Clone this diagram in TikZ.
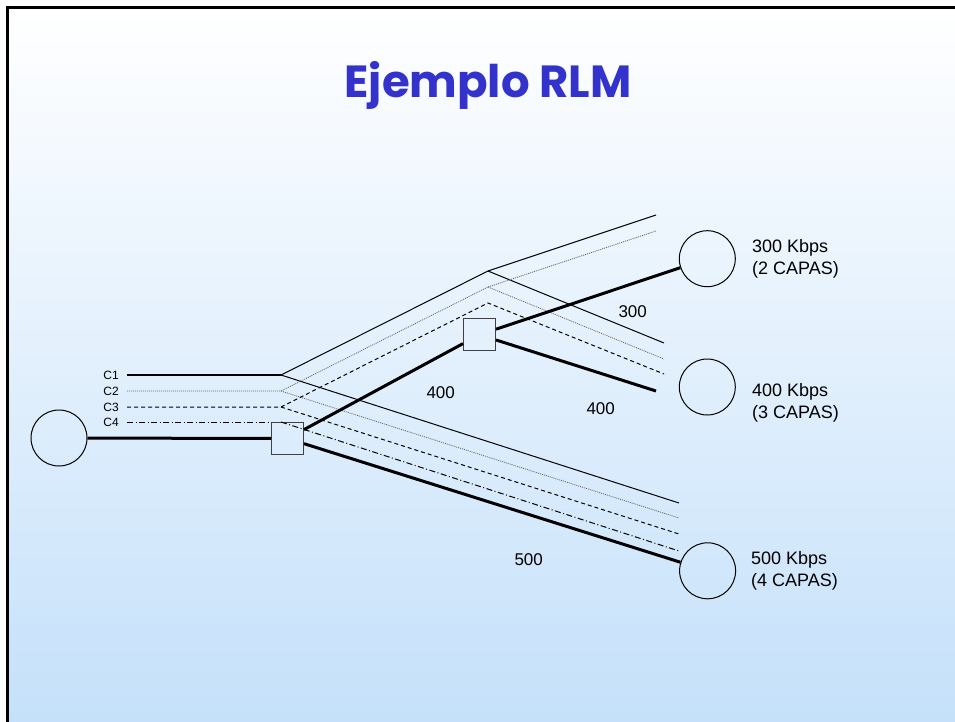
\documentclass[tikz,border=0pt]{standalone}
\usepackage{fontspec}
\setmainfont{Liberation Sans}
\newfontfamily\titlefont{Poppins}
\usetikzlibrary{calc,positioning}
\definecolor{fondo}{RGB}{196,224,250}
\definecolor{titulo}{RGB}{51,51,204}
\tikzset{
	host/.style={draw,circle,minimum size=56pt,inner sep=0pt,line width=1pt},
	router/.style={draw=black!75,rectangle,minimum size=32pt,inner sep=0pt,line width=1pt},
	capa1/.style={line width=1pt},
	capa2/.style={line width=0.8pt,black!60,dash pattern=on 1pt off 1pt},
	capa3/.style={line width=1pt,dash pattern=on 4pt off 3pt},
	capa4/.style={line width=1pt,dash pattern=on 6pt off 2.5pt on 1pt off 2.5pt},
	flujo/.style={line width=3pt},
	tasa/.style={font=\fontsize{17}{20}\selectfont},
	destino/.style={anchor=west,align=left,inner sep=0pt,font=\fontsize{18}{22}\selectfont},
	nombre/.style={anchor=east,inner ysep=2pt,inner xsep=8pt,font=\fontsize{12}{14}\selectfont}
}

\begin{document}
\begin{tikzpicture}[x=1pt,y=-1pt]
		\useasboundingbox (0,0) rectangle (955,722);
		\shade[top color=white,bottom color=fondo] (7.5,7.5) rectangle (965,730);
		\draw[line width=3pt] (7.5,730) -- (7.5,7.5) -- (965,7.5);

		\node[anchor=base,text=titulo,font=\titlefont\bfseries\fontsize{45}{50}\selectfont] (titulo) at (488,98) {Ejemplo RLM};

		\node[host] (src) at (59,438) {};
		\node[router] (r1) at (287.5,438.5) {};
		\node[router] (r2) at (479.5,334.7) {};
		\node[host] (h300) at (707.3,258.7) {};
		\node[host] (h400) at (707.3,387) {};
		\node[host] (h500) at (707.6,570.8) {};

		\node[nombre] (l1) at (127,375) {C1};
		\node[nombre] (l2) at (127,391) {C2};
		\node[nombre] (l3) at (127,407) {C3};
		\node[nombre] (l4) at (127,422) {C4};

		\coordinate (b1) at (281,375);
		\coordinate (b2) at (281,391);
		\coordinate (b3) at (281,407);
		\coordinate (b4) at (281,422);
		\coordinate (u1) at (488,271);
		\coordinate (u2) at (488,287);
		\coordinate (u3) at (488,303);
		\coordinate (e1) at (656,215);
		\coordinate (e2) at (656,231);
		\coordinate (d1) at (664,343);
		\coordinate (d2) at (664,359);
		\coordinate (d3) at (664,374);
		\coordinate (f1) at (679,503);
		\coordinate (f2) at (679,518);
		\coordinate (f3) at (679,534);
		\coordinate (f4) at (679,551);
		\coordinate (t400) at (656,391);

		\draw[capa1,line width=1.8pt] (l1.east) -- (b1);
		\draw[capa1] (b1) -- (u1) -- (e1);
		\draw[capa1] (u1) -- (d1);
		\draw[capa1] (b1) -- (f1);
		\draw[capa2] (l2.east) -- (b2) -- (u2) -- (e2);
		\draw[capa2] (u2) -- (d2);
		\draw[capa2] (b2) -- (f2);
		\draw[capa3] (l3.east) -- (b3) -- (u3) -- (d3);
		\draw[capa3] (b3) -- (f3);
		\draw[capa4] (l4.east) -- (r1.north west);
		\draw[capa4] (b4) -- (f4);

		\draw[flujo] (src) -- (r1);
		\draw[flujo] (r1) -- (r2);
		\draw[flujo] (r2) -- (h300);
		\draw[flujo] (r2) -- (t400);
		\draw[flujo] (r1) -- (h500);

		\node[tasa] (n300) at (632.7,311.7) {300};
		\node[tasa] (n400a) at (440.7,392.3) {400};
		\node[tasa] (n400b) at (600.7,408.3) {400};
		\node[tasa] (n500) at (528.7,560) {500};

		\node[destino] (k300) at (752,259) {300 Kbps\\(2 CAPAS)};
		\node[destino] (k400) at (752,403) {400 Kbps\\(3 CAPAS)};
		\node[destino] (k500) at (751,571) {500 Kbps\\(4 CAPAS)};
\end{tikzpicture}
\end{document}
